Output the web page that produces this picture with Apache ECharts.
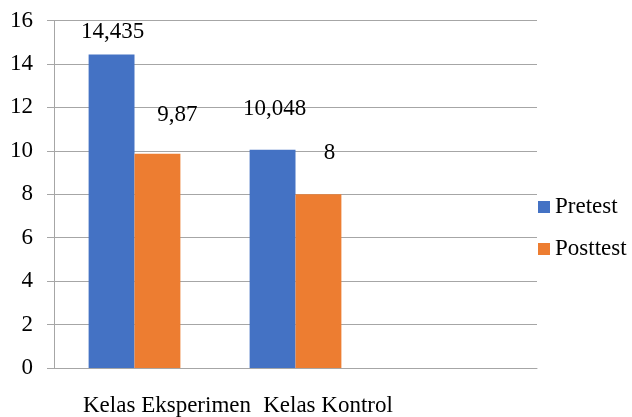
<!DOCTYPE html>
<html>
<head>
<meta charset="utf-8">
<script src="https://cdn.jsdelivr.net/npm/echarts@6/dist/echarts.min.js"></script>
<style>
  html, body { margin: 0; padding: 0; background: #ffffff; }
  #chart { width: 632px; height: 417px; }
</style>
</head>
<body>
<div id="chart"></div>
<script>
// Class groups (third slot left empty) and mean scores
var categories = ['Kelas Eksperimen', 'Kelas Kontrol', ''];
var pretest = [14.435, 10.048];
var posttest = [9.87, 8];
var yTicks = { min: 0, max: 16, interval: 2 };

var FONT = 'Liberation Serif';
var FS = 23;

// Decimal comma, as in the labels
function fmt(v) { return String(v).replace('.', ','); }

// Label placement tweaks per bar (distance above bar, horizontal shift)
var preLabelPos = [{ d: 11, dx: 1 }, { d: 29, dx: 2 }];
var postLabelPos = [{ d: 27, dx: 20 }, { d: 30, dx: 11 }];

function buildData(values, pos) {
  return values.map(function (v, i) {
    return {
      value: v,
      label: { distance: pos[i].d, offset: [pos[i].dx, 0] }
    };
  });
}

var chart = echarts.init(document.getElementById('chart'), null, { renderer: 'canvas' });

var labelStyle = {
  show: true,
  position: 'top',
  color: '#000000',
  fontFamily: FONT,
  fontSize: FS,
  formatter: function (p) { return fmt(p.value); }
};

chart.setOption({
  animation: false,
  backgroundColor: '#ffffff',
  textStyle: { fontFamily: FONT, fontSize: FS },
  grid: { left: 54, right: 95, top: 20.5, bottom: 47.5, containLabel: false },
  legend: {
    orient: 'vertical',
    left: 538,
    top: 195.5,
    padding: 0,
    itemWidth: 12,
    itemHeight: 12,
    itemGap: 19,
    icon: 'rect',
    textStyle: { fontFamily: FONT, fontSize: FS, color: '#000000', lineHeight: 23 },
    data: ['Pretest', 'Posttest']
  },
  xAxis: {
    type: 'category',
    data: categories,
    axisLine: { show: true, lineStyle: { color: '#a6a6a6', width: 1 } },
    axisTick: { show: false },
    // category names sit a little right of their bar groups
    axisLabel: { color: '#000000', fontFamily: FONT, fontSize: FS, margin: 26, interval: 0, padding: [0, 0, 0, 65] }
  },
  yAxis: {
    type: 'value',
    min: yTicks.min,
    max: yTicks.max,
    interval: yTicks.interval,
    axisLine: { show: true, lineStyle: { color: '#a6a6a6', width: 1 } },
    axisTick: { show: true, length: 7, lineStyle: { color: '#a6a6a6', width: 1 } },
    axisLabel: { color: '#000000', fontFamily: FONT, fontSize: FS, margin: 21 },
    splitLine: { show: true, lineStyle: { color: '#a6a6a6', width: 1 } }
  },
  series: [
    {
      name: 'Pretest',
      type: 'bar',
      data: buildData(pretest, preLabelPos),
      itemStyle: { color: '#4472C4' },
      barGap: '0%',
      barCategoryGap: '43%',
      label: labelStyle
    },
    {
      name: 'Posttest',
      type: 'bar',
      data: buildData(posttest, postLabelPos),
      itemStyle: { color: '#ED7D31' },
      barGap: '0%',
      barCategoryGap: '43%',
      label: labelStyle
    }
  ]
});
</script>
</body>
</html>
